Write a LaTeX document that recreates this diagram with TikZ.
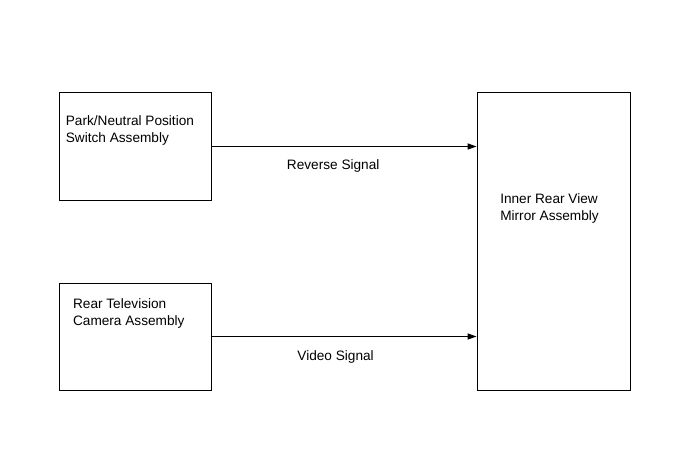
\documentclass[tikz,border=0pt]{standalone}
\usepackage{fontspec}
\setmainfont{Liberation Sans}
\usepackage{xcolor}
\usetikzlibrary{calc,positioning,arrows.meta}
\definecolor{boxline}{RGB}{0,0,0}

\begin{document}
\begin{tikzpicture}[
  unit/.style={draw=boxline, line width=0.7pt, inner sep=0pt},
  utext/.style={font=\fontsize{9.7}{12.1}\selectfont, align=left, inner sep=0pt},
  sig/.style={draw=boxline, line width=0.7pt, -{Triangle[length=0.22cm, width=0.15cm]}},
  slabel/.style={font=\fontsize{9.7}{12.1}\selectfont, inner sep=0pt}
]
\useasboundingbox (0, 0) rectangle (17.275, 11.675);
% units
\node[unit, minimum width=3.8cm, minimum height=2.675cm] (pnp) at (3.375, 8.0125) {};
\node[unit, minimum width=3.8cm, minimum height=2.675cm] (camera) at (3.375, 3.2625) {};
\node[unit, minimum width=3.825cm, minimum height=7.425cm] (mirror) at (13.8375, 5.6375) {};
% unit texts
\node[utext, anchor=north west] (pnp text) at (1.64, 8.79) {Park/Neutral Position\\Switch Assembly};
\node[utext, anchor=north west] (camera text) at (1.82, 4.22) {Rear Television\\Camera Assembly};
\node[utext, anchor=north west] (mirror text) at (12.5, 6.84) {Inner Rear View\\Mirror Assembly};
% signals
\draw[sig] (pnp.east) -- (pnp.east -| mirror.west);
\draw[sig] (camera.east) -- (camera.east -| mirror.west);
\node[slabel] (reverse) at (8.33, 7.52) {Reverse Signal};
\node[slabel] (video) at (8.39, 2.745) {Video Signal};
\end{tikzpicture}
\end{document}
